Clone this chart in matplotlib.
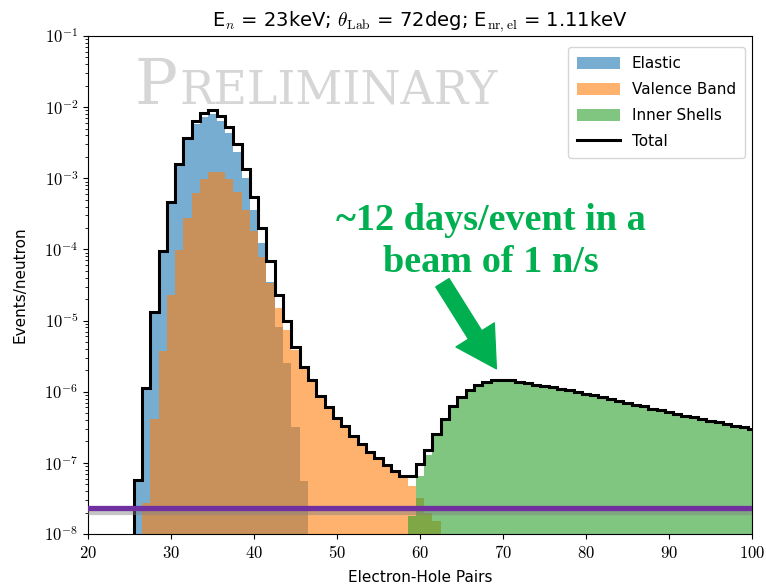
import numpy as np
import matplotlib
matplotlib.use("Agg")
import matplotlib.pyplot as plt
from matplotlib.lines import Line2D
from matplotlib.patches import Patch
from matplotlib import patheffects as pe
from matplotlib.offsetbox import TextArea, HPacker, AnnotationBbox

plt.rcParams['mathtext.fontset'] = 'cm'
plt.rcParams['font.family'] = ['DejaVu Sans']

# Electron-hole pair bins (centres), unit width
first_bin = 26
last_bin = 100

# Events per neutron per bin, each series listed from its first populated bin
elastic_start = 26
elastic = [5.7e-8, 1.1e-6, 1.26e-5, 9.1e-5, 4.4e-4, 1.5e-3, 3.4e-3, 5.8e-3,
           7.2e-3, 7.9e-3, 6.3e-3, 4.3e-3, 2.35e-3, 1.0e-3, 3.6e-4, 1.23e-4,
           3.5e-5, 8.0e-6, 2.5e-6, 3.2e-7, 5.6e-8]

valence_start = 27
valence = [2.7e-8, 4.1e-7, 3.7e-6, 2.3e-5, 9.7e-5, 2.8e-4, 6.2e-4, 9.8e-4,
           1.24e-3, 1.24e-3, 9.8e-4, 6.5e-4, 3.6e-4, 1.8e-4, 7.9e-5, 3.4e-5,
           1.5e-5, 7.3e-6, 3.9e-6, 2.2e-6, 1.44e-6, 8.8e-7, 6.1e-7, 4.3e-7,
           3.3e-7, 2.4e-7, 1.87e-7, 1.42e-7, 1.17e-7, 9.2e-8, 7.6e-8, 6.5e-8,
           4.8e-8, 3.2e-8, 2.0e-8, 1.5e-8]

inner_start = 59
inner = [1.8e-8, 6.5e-8, 1.3e-7, 2.4e-7, 4.1e-7, 6.2e-7, 8.4e-7, 1.07e-6,
         1.26e-6, 1.38e-6, 1.44e-6, 1.46e-6, 1.44e-6, 1.38e-6, 1.32e-6,
         1.26e-6, 1.21e-6, 1.15e-6, 1.10e-6, 1.05e-6, 9.9e-7, 9.4e-7, 8.9e-7,
         8.4e-7, 7.9e-7, 7.4e-7, 7.0e-7, 6.6e-7, 6.2e-7, 5.8e-7, 5.5e-7,
         5.2e-7, 4.9e-7, 4.6e-7, 4.35e-7, 4.1e-7, 3.9e-7, 3.7e-7, 3.5e-7,
         3.3e-7, 3.15e-7, 3.0e-7]

threshold = 2.3e-8   # single-event line for a 1 n/s beam

x_ticks = [20, 30, 40, 50, 60, 70, 80, 90, 100]
y_exponents = [-8, -7, -6, -5, -4, -3, -2, -1]

centres = np.arange(first_bin, last_bin + 1)
edges = np.arange(first_bin - 0.5, last_bin + 1.5, 1.0)


def full_series(start, values):
    arr = np.zeros(len(centres))
    i = start - first_bin
    arr[i:i + len(values)] = values
    return arr


el = full_series(elastic_start, elastic)
vb = full_series(valence_start, valence)
ish = full_series(inner_start, inner)
total = el + vb + ish

fig = plt.figure(figsize=(7.66, 5.88), dpi=100)
ax = fig.add_axes([88 / 766, 1 - 534 / 588, (752 - 88) / 766, (534 - 36) / 588])
ax.set_yscale('log')

ax.hist(centres, bins=edges, weights=el, color='C0', alpha=0.6)
ax.hist(centres, bins=edges, weights=vb, color='C1', alpha=0.6)
ax.hist(centres, bins=edges, weights=ish, color='C2', alpha=0.6)
ax.stairs(total, edges, baseline=1e-12, color='black', lw=2.2, zorder=4)

ax.set_xlim(20, 100)
ax.set_ylim(1e-8, 1e-1)

ax.set_xticks(x_ticks)
ax.set_xticklabels([r'$%d$' % t for t in x_ticks], fontsize=12)
ax.set_yticks([10.0 ** e for e in y_exponents])
ax.set_yticklabels([r'$10^{%d}$' % e for e in y_exponents], fontsize=12)

ax.set_xlabel('Electron-Hole Pairs', fontsize=11, labelpad=6)
ax.set_ylabel('Events/neutron', fontsize=11, labelpad=12)
ax.set_title(r'E$_n$ = 23keV; $\theta_{\rm Lab}$ = 72deg; E$_{\rm nr,el}$ = 1.11keV',
             fontsize=14, pad=7)

# Sensitivity line with a soft drop shadow
ax.axhline(threshold, color='#7030a0', lw=3.8, zorder=6,
           path_effects=[pe.SimpleLineShadow(offset=(0, -2.5), shadow_color='gray',
                                             alpha=0.45), pe.Normal()])

handles = [Patch(facecolor='C0', alpha=0.6), Patch(facecolor='C1', alpha=0.6),
           Patch(facecolor='C2', alpha=0.6), Line2D([], [], color='black', lw=2.2)]
labels = ['Elastic', 'Valence Band', 'Inner Shells', 'Total']
ax.legend(handles, labels, loc='upper right', fontsize=11, handlelength=2.8,
          handleheight=0.9, labelspacing=0.72, borderpad=0.6, borderaxespad=0,
          bbox_to_anchor=(0.9895, 0.978))

# Watermark
wm_color = '#d6d6d6'
big = TextArea('P', textprops=dict(color=wm_color, fontsize=46, family='DejaVu Serif'))
small = TextArea('RELIMINARY', textprops=dict(color=wm_color, fontsize=33,
                                              family='DejaVu Serif'))
pack = HPacker(children=[big, small], align='baseline', pad=0, sep=1)
ab = AnnotationBbox(pack, (135 / 766, 1 - 86 / 588), xycoords='figure fraction',
                    box_alignment=(0, 0.5), frameon=False, zorder=1)
ax.add_artist(ab)

# Annotation of the inner-shell rate
green = '#00b050'
ax.text(68.5, 1.3e-4, '~12 days/event in a\nbeam of 1 n/s', color=green,
        fontsize=27.5, fontweight='bold', family='Liberation Serif',
        ha='center', va='center', linespacing=1.27, zorder=7)
ax.annotate('', xy=(69.2, 2.1e-6), xytext=(62.7, 3.4e-5),
            arrowprops=dict(arrowstyle='simple,head_length=1.15,head_width=1.3,tail_width=0.45',
                            color=green, shrinkA=0, shrinkB=0, mutation_scale=25),
            zorder=7)

fig.savefig('out.png', dpi=100)
